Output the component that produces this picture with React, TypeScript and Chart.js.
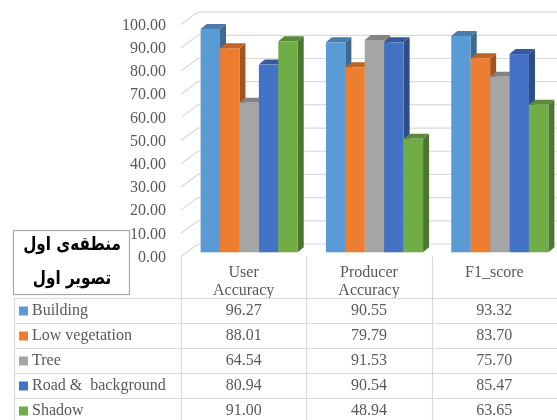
import React, { useEffect, useRef } from "react";
import { Chart, registerables } from "chart.js";

Chart.register(...registerables);

// ---- data ----
const categories: string[][] = [["User", "Accuracy"], ["Producer", "Accuracy"], ["F1_score"]];
const seriesNames = ["Building", "Low vegetation", "Tree", "Road &  background", "Shadow"];
const building = [96.27, 90.55, 93.32];
const lowVegetation = [88.01, 79.79, 83.7];
const tree = [64.54, 91.53, 75.7];
const road = [80.94, 90.54, 85.47];
const shadow = [91.0, 48.94, 63.65];
const yMin = 0;
const yMax = 100;
const yStep = 10;
const boxLines = ["منطقه‌ی اول", "تصویر اول"];

// ---- styles ----
const colors = ["#5B9BD5", "#ED7D31", "#A5A5A5", "#4472C4", "#70AD47"];
const TEXT = "#595959";
const GRID = "#d9d9d9";
const SERIF = '"Liberation Serif", "Times New Roman", serif';

function shade(hex: string, f: number) {
  const n = parseInt(hex.slice(1), 16);
  const r = Math.round(((n >> 16) & 255) * f);
  const g = Math.round(((n >> 8) & 255) * f);
  const b = Math.round((n & 255) * f);
  return `rgb(${r},${g},${b})`;
}

const WALL = { dx: 17, dy: -12.5 };
const FRONT = { dx: 5.5, dy: -4.2 };
const DEPTH = { dx: 6, dy: -5 };

const threeD = {
  id: "threeD",
  beforeDatasetsDraw(chart: any) {
    const ctx: CanvasRenderingContext2D = chart.ctx;
    const ys = chart.scales.y;
    const xs = chart.scales.x;
    const right = chart.width;
    ctx.save();
    ctx.strokeStyle = GRID;
    ctx.lineWidth = 1.2;
    ys.ticks.forEach((t: any) => {
      const yl = ys.getPixelForValue(t.value);
      ctx.beginPath();
      ctx.moveTo(xs.left, yl);
      ctx.lineTo(xs.left + WALL.dx, yl + WALL.dy);
      ctx.lineTo(right, yl + WALL.dy);
      ctx.stroke();
    });
    chart.data.datasets.forEach((ds: any, di: number) => {
      const meta = chart.getDatasetMeta(di);
      const col = ds.backgroundColor as string;
      meta.data.forEach((el: any) => {
        const p = el.getProps(["x", "y", "base", "width"], true);
        const l = p.x - p.width / 2 + FRONT.dx;
        const r = p.x + p.width / 2 + FRONT.dx;
        const t = p.y + FRONT.dy;
        const b = p.base + FRONT.dy;
        ctx.fillStyle = shade(col, 0.68);
        ctx.beginPath();
        ctx.moveTo(r, t);
        ctx.lineTo(r + DEPTH.dx, t + DEPTH.dy);
        ctx.lineTo(r + DEPTH.dx, b + DEPTH.dy);
        ctx.lineTo(r, b);
        ctx.closePath();
        ctx.fill();
        ctx.fillStyle = shade(col, 0.8);
        ctx.beginPath();
        ctx.moveTo(l, t);
        ctx.lineTo(r, t);
        ctx.lineTo(r + DEPTH.dx, t + DEPTH.dy);
        ctx.lineTo(l + DEPTH.dx, t + DEPTH.dy);
        ctx.closePath();
        ctx.fill();
        ctx.fillStyle = col;
        ctx.fillRect(l, t, r - l, b - t);
      });
    });
    ctx.restore();
    return false;
  },
  afterDraw(chart: any) {
    const ctx: CanvasRenderingContext2D = chart.ctx;
    const xs = chart.scales.x;
    const right = chart.width;
    const colW = (xs.right - xs.left) / categories.length;
    const tableLeft = 14;
    const rowTop = 298;
    const rowH = 25;
    ctx.save();
    ctx.strokeStyle = GRID;
    ctx.lineWidth = 1.2;
    for (let i = 0; i < categories.length; i++) {
      const x = Math.round(xs.left + i * colW) + 0.5;
      ctx.beginPath();
      ctx.moveTo(x, chart.chartArea.bottom);
      ctx.lineTo(x, chart.height);
      ctx.stroke();
    }
    ctx.beginPath();
    ctx.moveTo(tableLeft + 0.5, rowTop);
    ctx.lineTo(tableLeft + 0.5, chart.height);
    ctx.stroke();
    for (let k = 0; k < seriesNames.length; k++) {
      const y = rowTop + k * rowH + 0.5;
      ctx.beginPath();
      ctx.moveTo(tableLeft, y);
      ctx.lineTo(right, y);
      ctx.stroke();
    }
    ctx.font = `16px ${SERIF}`;
    ctx.textBaseline = "middle";
    chart.data.datasets.forEach((ds: any, di: number) => {
      const cy = rowTop + di * rowH + 13;
      ctx.fillStyle = ds.backgroundColor;
      ctx.fillRect(19, cy - 4.5, 9, 9);
      ctx.fillStyle = TEXT;
      ctx.textAlign = "left";
      ctx.fillText(ds.label, 32, cy);
      ctx.textAlign = "center";
      (ds.data as number[]).forEach((v, ci) => {
        ctx.fillText(v.toFixed(2), xs.getPixelForValue(ci), cy);
      });
    });
    // persian box
    ctx.fillStyle = "#ffffff";
    ctx.fillRect(13.5, 230.5, 116, 64);
    ctx.strokeStyle = "#a6a6a6";
    ctx.lineWidth = 1.2;
    ctx.strokeRect(13.5, 230.5, 116, 64);
    ctx.fillStyle = "#000000";
    ctx.font = `bold 19px "DejaVu Sans", sans-serif`;
    ctx.textAlign = "center";
    ctx.direction = "rtl";
    ctx.translate(72, 0);
    ctx.scale(0.8, 1);
    ctx.fillText(boxLines[0], 0, 245);
    ctx.fillText(boxLines[1], 0, 279);
    ctx.restore();
  },
};

export default function App() {
  const ref = useRef<HTMLCanvasElement | null>(null);
  useEffect(() => {
    if (!ref.current) return;
    const seriesValues = [building, lowVegetation, tree, road, shadow];
    const chart = new Chart(ref.current, {
      type: "bar",
      data: {
        labels: categories as any,
        datasets: seriesNames.map((name, i) => ({
          label: name,
          data: seriesValues[i],
          backgroundColor: colors[i],
          categoryPercentage: 0.775,
          barPercentage: 1,
        })),
      },
      options: {
        responsive: false,
        animation: false,
        devicePixelRatio: 1,
        layout: { padding: { top: 22.5, left: 0, right: 0, bottom: 0 } },
        plugins: { legend: { display: false }, tooltip: { enabled: false } },
        scales: {
          x: {
            grid: { display: false },
            border: { display: false },
            ticks: {
              color: TEXT,
              font: { family: SERIF, size: 16, lineHeight: 1.15 },
              padding: -1,
              maxRotation: 0,
              autoSkip: false,
            },
            afterFit(scale: any) {
              scale.height = 420 - 256.5;
            },
          },
          y: {
            min: yMin,
            max: yMax,
            grid: { display: false, drawTicks: false },
            border: { display: false },
            ticks: {
              stepSize: yStep,
              color: TEXT,
              font: { family: SERIF, size: 16 },
              padding: 15,
              labelOffset: 1,
              callback: (v: any) => Number(v).toFixed(2),
            },
            afterFit(scale: any) {
              scale.width = 181;
            },
          },
        },
      },
      plugins: [threeD],
    });
    return () => chart.destroy();
  }, []);
  return (
    <div style={{ position: "absolute", left: 0, top: 0, width: 557, height: 420, background: "#fff" }}>
      <canvas ref={ref} width={557} height={420} style={{ display: "block" }} />
    </div>
  );
}
